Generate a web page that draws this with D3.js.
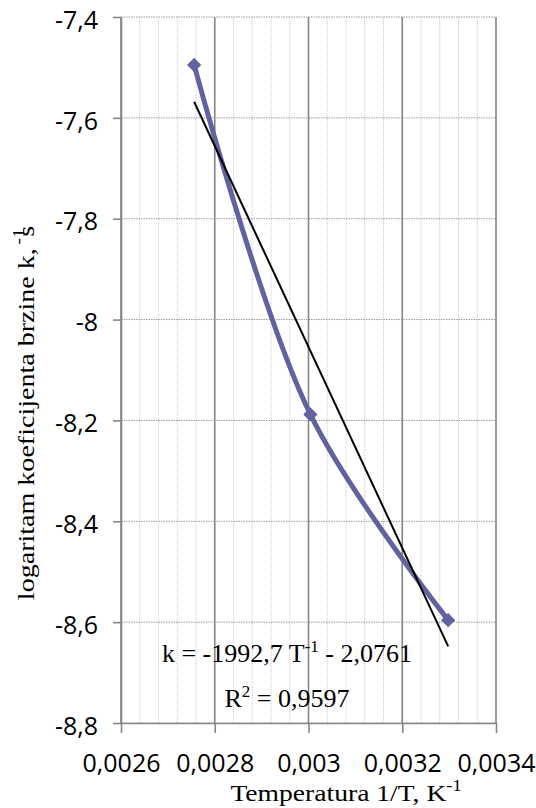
<!DOCTYPE html>
<html>
<head>
<meta charset="utf-8">
<script src="https://cdn.jsdelivr.net/npm/d3@7"></script>
<style>
  body { margin: 0; background: #fff; }
  svg { display: block; }
</style>
</head>
<body>
<div id="chart"><svg></svg></div>
<script>
// data
const invT = [0.002756, 0.003004, 0.003298];
const lnK = [-7.495, -8.188, -8.596];
const trendSlope = -1992.7;
const trendIntercept = -2.0761;
const xTicks = [0.0026, 0.0028, 0.003, 0.0032, 0.0034];
const xTickLabels = ["0,0026", "0,0028", "0,003", "0,0032", "0,0034"];
const yTicks = [-7.4, -7.6, -7.8, -8, -8.2, -8.4, -8.6, -8.8];
const yTickLabels = ["-7,4", "-7,6", "-7,8", "-8", "-8,2", "-8,4", "-8,6", "-8,8"];
const xMinorTicks = d3.range(0, 21).map((i) => 0.0026 + i * 0.00004);

const W = 536, H = 808;
const margin = { top: 17, right: 40, bottom: 85, left: 121 },
  width = W - margin.left - margin.right,
  height = H - margin.top - margin.bottom;

const sans = "'Open Sans', sans-serif";
const serif = "'Liberation Serif', 'Times New Roman', serif";
const seriesColor = "#62629f";

const root = d3.select("#chart svg").attr("width", W).attr("height", H);
const svg = root.append("g").attr("transform", `translate(${margin.left},${margin.top})`);

const x = d3.scaleLinear().domain([0.0026, 0.0034]).range([0, width]);
const y = d3.scaleLinear().domain([-8.8, -7.4]).range([height, 0]);

// minor vertical grid (dotted)
svg.append("g")
  .selectAll("line")
  .data(xMinorTicks)
  .enter()
  .append("line")
  .attr("x1", (d) => x(d)).attr("x2", (d) => x(d))
  .attr("y1", 0).attr("y2", height)
  .style("stroke", "#c8c8c8")
  .style("stroke-width", 1)
  .style("stroke-dasharray", "1,1");

// horizontal major grid (dotted)
svg.append("g")
  .selectAll("line")
  .data(yTicks)
  .enter()
  .append("line")
  .attr("x1", 0).attr("x2", width)
  .attr("y1", (d) => y(d)).attr("y2", (d) => y(d))
  .style("stroke", "#9a9a9a")
  .style("stroke-width", 1)
  .style("stroke-dasharray", "1.5,1");

// vertical major grid (solid)
svg.append("g")
  .selectAll("line")
  .data(xTicks)
  .enter()
  .append("line")
  .attr("x1", (d) => x(d)).attr("x2", (d) => x(d))
  .attr("y1", 0).attr("y2", height)
  .style("stroke", "#868686")
  .style("stroke-width", 1.6);

// axes
const xAxis = svg.append("g")
  .attr("class", "axis axis--x")
  .attr("transform", `translate(0,${height})`)
  .call(d3.axisBottom(x).tickValues(xTicks)
    .tickFormat((d, i) => xTickLabels[i]).tickSizeInner(10).tickSizeOuter(0).tickPadding(22));

const yAxis = svg.append("g")
  .attr("class", "axis axis--y")
  .call(d3.axisLeft(y).tickValues(yTicks)
    .tickFormat((d, i) => yTickLabels[i]).tickSizeInner(8).tickSizeOuter(0).tickPadding(15));

svg.selectAll(".axis path, .axis line")
  .style("stroke", "#868686")
  .style("stroke-width", 1.6);
svg.selectAll(".axis text")
  .style("font-family", sans)
  .style("font-size", "25px")
  .style("fill", "#000");
yAxis.selectAll("text").attr("dy", "0.45em");
xAxis.selectAll("text").attr("dy", "0.68em");

// series: smoothed line with diamond markers
const data = invT.map((v, i) => ({ x: v, y: lnK[i] }));
const line = d3.line()
  .x((d) => x(d.x))
  .y((d) => y(d.y))
  .curve(d3.curveCatmullRom.alpha(0.5));

svg.append("path")
  .datum(data)
  .attr("d", line)
  .style("fill", "none")
  .style("stroke", seriesColor)
  .style("stroke-width", "5px")
  .style("stroke-linejoin", "round");

svg.selectAll(".dot")
  .data(data)
  .enter()
  .append("path")
  .attr("class", "dot")
  .attr("transform", (d) => `translate(${x(d.x)},${y(d.y)})`)
  .attr("d", d3.symbol().type(d3.symbolDiamond2).size(130))
  .style("fill", seriesColor);

// linear trendline over the data range
const xExt = d3.extent(invT);
svg.append("path")
  .datum(xExt.map((v) => ({ x: v, y: trendSlope * v + trendIntercept })))
  .attr("d", d3.line().x((d) => x(d.x)).y((d) => y(d.y)))
  .style("fill", "none")
  .style("stroke", "#000")
  .style("stroke-width", "2px");

// trendline label
const eq = root.append("text")
  .attr("x", 287).attr("y", 662)
  .style("text-anchor", "middle")
  .style("font-family", serif)
  .style("font-size", "26px");
eq.append("tspan").text("k = -1992,7 T");
eq.append("tspan").attr("dy", -10).style("font-size", "17px").text("-1");
eq.append("tspan").attr("dy", 10).text(" - 2,0761");

const r2 = root.append("text")
  .attr("x", 287).attr("y", 707)
  .style("text-anchor", "middle")
  .style("font-family", serif)
  .style("font-size", "26px");
r2.append("tspan").text("R");
r2.append("tspan").attr("dy", -10).style("font-size", "17px").text("2");
r2.append("tspan").attr("dy", 10).text(" = 0,9597");

// axis titles (the source chart is stretched sideways, so widen the serif titles)
const xt = root.append("text")
  .attr("transform", "translate(346,801) scale(1.15,1)")
  .style("text-anchor", "middle")
  .style("font-family", serif)
  .style("font-size", "24px");
xt.append("tspan").text("Temperatura 1/T, K");
xt.append("tspan").attr("dy", -10).style("font-size", "16px").text("-1");

const yt = root.append("text")
  .attr("transform", "translate(34,413) rotate(-90) scale(1.22,1)")
  .style("text-anchor", "middle")
  .style("font-family", serif)
  .style("font-size", "23px");
yt.append("tspan").text("logaritam koeficijenta brzine k,");
yt.append("tspan").attr("dx", 3).attr("dy", -10).style("font-size", "16px").text("-1");
yt.append("tspan").attr("dx", -7).attr("dy", 10).text("s");
</script>
</body>
</html>
